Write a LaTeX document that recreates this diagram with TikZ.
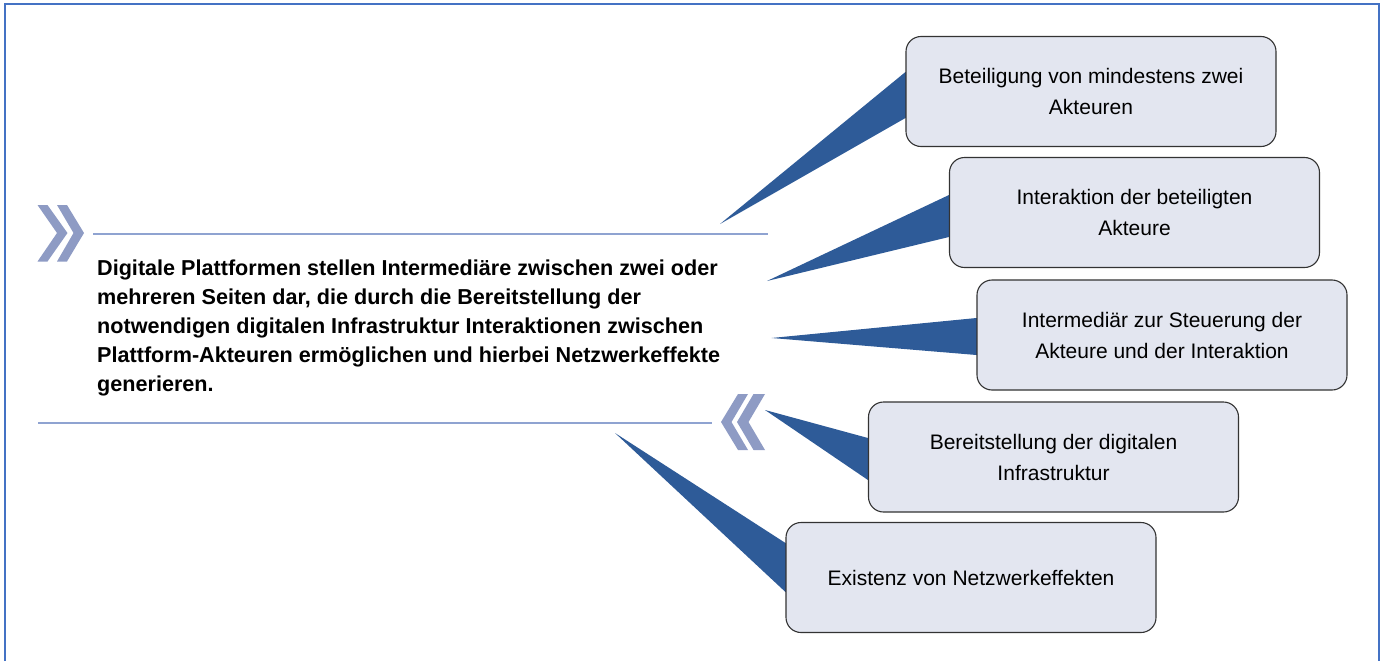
\documentclass[tikz,border=0pt]{standalone}
\usepackage{fontspec}
\setmainfont{Liberation Sans}
\usetikzlibrary{calc,backgrounds}
\definecolor{wedgeblue}{RGB}{46,91,152}
\definecolor{boxfill}{RGB}{227,230,240}
\definecolor{chevcol}{RGB}{142,155,196}
\definecolor{linecol}{RGB}{143,163,209}
\definecolor{framecol}{RGB}{68,114,196}
\tikzset{
  itembox/.style={draw=black!80, line width=1.1pt, fill=boxfill, rounded corners=15pt,
    minimum width=370pt, minimum height=110pt, align=center, inner sep=0pt,
    font=\fontsize{21}{31}\selectfont},
  wedge/.style={fill=wedgeblue, draw=none},
  chev/.style={fill=chevcol, draw=none},
  sepline/.style={draw=linecol, line width=1.2pt},
}
\begin{document}
\begin{tikzpicture}[x=1pt,y=-1pt]
\useasboundingbox (0,0) rectangle (1380,661);
% frame
\draw[framecol, line width=2pt] (4.5,661) -- (4.5,4) -- (1379,4) -- (1379,661);
% boxes
\node[itembox] (b1) at (1091,91.5) {Beteiligung von mindestens zwei\\Akteuren};
\node[itembox] (b2) at (1134.5,212.5) {Interaktion der beteiligten\\Akteure};
\node[itembox] (b3) at (1162,335) {Intermediär zur Steuerung der\\Akteure und der Interaktion};
\node[itembox] (b4) at (1053.5,457) {Bereitstellung der digitalen\\Infrastruktur};
\node[itembox] (b5) at (971,577.5) {Existenz von Netzwerkeffekten};
% tips
\coordinate (t1) at (720,224);
\coordinate (t2) at (767,281);
\coordinate (t3) at (771.5,338);
\coordinate (t4) at (765,410);
\coordinate (t5) at (615,433);
\begin{scope}[on background layer]
\fill[wedge] (t1) -- ($(b1.west)+(0,-19.5)$) -- ($(b1.west)+(20,-19.5)$) -- ($(b1.west)+(20,26.5)$) -- ($(b1.west)+(0,26.5)$) -- cycle;
\fill[wedge] (t2) -- ($(b2.west)+(0,-17.5)$) -- ($(b2.west)+(20,-17.5)$) -- ($(b2.west)+(20,24.5)$) -- ($(b2.west)+(0,24.5)$) -- cycle;
\fill[wedge] (t3) -- ($(b3.west)+(0,-17)$) -- ($(b3.west)+(20,-17)$) -- ($(b3.west)+(20,20)$) -- ($(b3.west)+(0,20)$) -- cycle;
\fill[wedge] (t4) -- ($(b4.west)+(0,-19)$) -- ($(b4.west)+(20,-19)$) -- ($(b4.west)+(20,23)$) -- ($(b4.west)+(0,23)$) -- cycle;
\fill[wedge] (t5) -- ($(b5.west)+(0,-34.5)$) -- ($(b5.west)+(20,-34.5)$) -- ($(b5.west)+(20,14.5)$) -- ($(b5.west)+(0,14.5)$) -- cycle;
\end{scope}
% separator lines
\coordinate (l1a) at (93,234); \coordinate (l1b) at (768,234);
\coordinate (l2a) at (38,423); \coordinate (l2b) at (712,423);
\draw[sepline] (l1a) -- (l1b);
\draw[sepline] (l2a) -- (l2b);
% chevrons right-pointing
\fill[chev] (37.5,205) -- (47.5,205) -- (67.5,233) -- (47.5,261.5) -- (37.5,261.5) -- (57,233) -- cycle;
\fill[chev] (57,205) -- (67,205) -- (84,233) -- (67,261.5) -- (57,261.5) -- (73.5,233) -- cycle;
% chevrons left-pointing
\fill[chev] (748,394) -- (738,394) -- (721,422) -- (738,450) -- (748,450) -- (731.5,422) -- cycle;
\fill[chev] (765,394) -- (753.5,394) -- (737,422) -- (753.5,450) -- (765,450) -- (748.5,422) -- cycle;
% main text
\node[anchor=north west, inner sep=0pt, align=left, font=\bfseries\fontsize{21.6}{29}\selectfont] (main) at (97,260)
{Digitale Plattformen stellen Intermediäre zwischen zwei oder\\
mehreren Seiten dar, die durch die Bereitstellung der\\
notwendigen digitalen Infrastruktur Interaktionen zwischen\\
Plattform-Akteuren ermöglichen und hierbei Netzwerkeffekte\\
generieren.};
\end{tikzpicture}
\end{document}
